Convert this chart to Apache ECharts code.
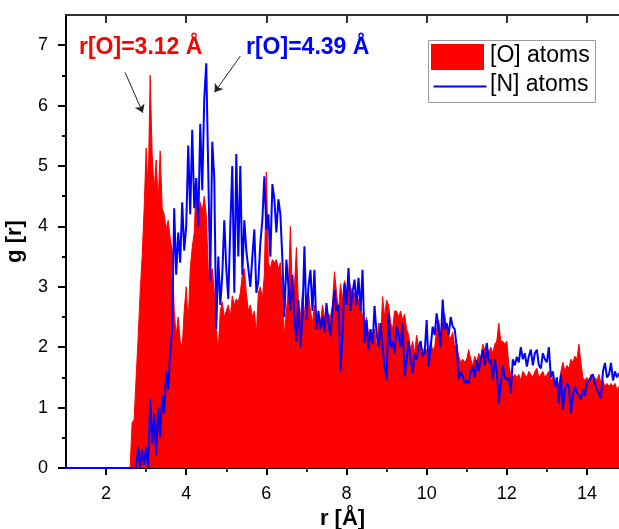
<!DOCTYPE html>
<html><head><meta charset="utf-8">
<script src="https://cdn.jsdelivr.net/npm/echarts@6/dist/echarts.min.js"></script>
<style>html,body{margin:0;padding:0;background:#fff}#c{width:619px;height:529px}</style>
</head><body><div id="c"></div>
<script>
// r grid: 1.00 .. 14.80 step 0.05 (one row per Å)
const rStart = 1.0, rStep = 0.05;

// g(r) of [O] atoms (red filled)
const gO = [
  0,0,0,0,0,0,0,0,0,0,0,0,0,0,0,0,0,0,0,0,
  0,0,0,0,0,0,0,0,0,0,0,0,0,0.75,0.8,1.5,2.15,2.9,3.5,4.3,
  5.3,4.6,6.5,5.2,4.6,5.1,4.4,5.25,4.3,4.2,3.95,4.1,3.8,3.6,2.6,2.2,2.5,2.1,2.0,2.6,
  3.0,2.4,3.3,3.65,3.9,4.75,4.0,4.4,4.25,4.5,4.2,3.3,3.1,3.3,2.9,2.3,1.95,2.6,2.75,2.5,
  2.6,2.7,2.5,2.85,2.7,2.8,2.75,2.9,3.2,3.3,2.9,2.6,2.7,2.5,2.6,2.2,2.9,3.0,2.8,3.2,
  4.9,3.4,3.3,3.45,3.4,3.45,3.3,3.4,2.9,2.2,2.6,3.0,4.0,2.8,3.0,3.65,2.7,2.5,2.9,2.6,
  2.4,2.9,2.6,2.4,2.7,2.2,2.5,2.4,2.7,2.5,2.6,2.55,2.5,2.7,3.25,2.9,2.6,3.05,2.8,3.1,
  2.9,3.15,3.0,2.9,2.9,2.7,2.8,2.7,2.5,2.3,2.5,2.2,2.3,2.1,2.3,2.0,2.4,2.1,2.84,2.5,
  2.78,2.7,2.4,2.3,2.6,2.6,2.5,2.6,2.45,2.55,2.3,2.2,1.95,2.1,1.9,2.2,2.0,2.1,1.9,2.0,
  1.95,1.9,2.1,1.95,2.0,2.3,2.45,2.2,2.4,2.55,2.3,2.2,2.15,2.25,2.0,2.05,1.85,1.75,1.8,1.75,
  1.8,1.96,1.8,1.7,1.85,1.75,1.9,1.8,2.05,1.95,2.05,1.9,2.0,1.9,2.05,2.1,2.4,2.1,2.1,2.05,
  2.1,1.7,1.55,1.5,1.55,1.5,1.55,1.45,1.6,1.55,1.5,1.6,1.55,1.5,1.6,1.65,1.5,1.55,1.6,1.5,
  1.55,1.6,1.45,1.5,1.4,1.5,1.35,1.6,1.75,1.6,1.7,1.65,1.8,1.75,1.85,1.8,2.05,1.75,1.5,1.45,
  1.5,1.4,1.55,1.45,1.5,1.45,1.55,1.4,1.45,1.35,1.4,1.35,1.4,1.35,1.4,1.3,1.35
];

// g(r) of [N] atoms (blue line)
const gN = [
  0,0,0,0,0,0,0,0,0,0,0,0,0,0,0,0,0,0,0,0,
  0,0,0,0,0,0,0,0,0,0,0,0,0,0,0,0,0.35,0.0,0.3,0.05,
  0.35,0.0,1.15,0.4,0.9,0.2,1.0,0.5,1.2,0.9,1.6,1.3,1.9,2.3,4.3,3.2,3.9,3.4,4.4,3.6,
  4.0,5.34,4.2,5.6,4.3,4.8,4.0,5.7,4.6,6.1,6.7,4.9,3.1,5.4,4.8,2.3,3.5,2.7,3.2,4.1,
  3.3,2.8,4.0,5.0,2.9,5.2,3.5,5.0,3.2,4.1,3.6,3.3,3.0,3.5,3.95,2.9,3.1,3.73,4.1,4.83,
  3.95,4.2,3.5,4.7,4.45,3.9,4.45,4.2,3.45,2.5,3.45,3.0,2.6,3.2,2.5,2.1,2.78,2.0,2.5,3.67,
  2.45,3.0,3.28,2.6,3.28,2.29,2.6,2.3,2.5,2.25,2.73,2.4,2.18,2.6,2.95,2.6,2.7,1.6,2.2,3.06,
  2.7,3.31,2.6,2.9,3.12,2.7,3.15,2.6,3.28,2.07,2.45,1.96,2.3,2.05,2.68,2.23,2.0,2.4,2.0,1.68,
  1.46,2.56,2.0,2.1,1.9,2.35,2.2,2.0,2.4,1.52,1.79,2.1,1.8,1.57,1.9,1.79,2.0,2.1,1.85,1.9,
  2.45,1.68,2.0,2.34,2.2,2.56,2.3,2.0,2.79,2.3,2.4,2.2,2.5,2.34,2.3,2.0,1.46,1.6,1.52,1.4,
  1.45,1.4,1.6,1.68,1.5,1.79,1.6,1.8,1.96,1.7,2.07,1.75,1.8,1.46,1.8,1.6,1.07,1.4,1.7,1.5,
  1.46,1.5,1.24,1.8,1.7,1.84,1.75,2.0,1.8,1.9,1.68,1.85,1.96,1.7,1.9,1.96,1.7,1.65,1.9,1.8,
  1.75,2.0,1.5,1.6,1.35,1.5,1.07,1.55,0.96,1.3,1.4,1.35,0.91,1.2,1.35,1.25,1.2,1.13,1.3,1.2,
  1.4,1.45,1.5,1.55,1.4,1.3,1.24,1.15,1.6,1.74,1.5,1.55,1.74,1.45,1.6,1.5,1.57
];

const xMajor = [2,4,6,8,10,12,14];
const xMinor = [3,5,7,9,11,13];
const yMajor = [0,1,2,3,4,5,6,7];
const yMinor = [0.5,1.5,2.5,3.5,4.5,5.5,6.5];

const seriesNames = ['[O] atoms', '[N] atoms'];
const annoText = ['r[O]=3.12 Å', 'r[O]=4.39 Å'];
// arrow start/end in data coordinates
const arrowO = [[2.475, 6.55], [2.918, 5.88]];
const arrowN = [[5.35, 6.82], [4.708, 6.22]];

const FONT = 'Liberation Sans, Arial, sans-serif';
const toPairs = arr => arr.map((v, i) => [+(rStart + i * rStep).toFixed(2), v]);

const chart = echarts.init(document.getElementById('c'), null, {renderer: 'canvas'});

function xAx(opts) {
  return Object.assign({
    type: 'value', min: 1, max: 14.8, gridIndex: 0,
    splitLine: {show: false},
    axisLine: {show: false},
    axisLabel: {show: false},
    axisTick: {show: false}
  }, opts);
}
function yAx(opts) {
  return Object.assign({
    type: 'value', min: 0, max: 7.5, gridIndex: 0,
    splitLine: {show: false},
    axisLine: {show: false},
    axisLabel: {show: false},
    axisTick: {show: false}
  }, opts);
}

chart.setOption({
  animation: false,
  backgroundColor: '#fff',
  grid: {left: 66, right: 0, top: 15, bottom: 61, containLabel: false, outerBoundsMode: 'none'},
  xAxis: [
    xAx({position: 'bottom',
      name: 'r [Å]', nameLocation: 'middle', nameGap: 36,
      nameTextStyle: {fontFamily: FONT, fontWeight: 'bold', fontSize: 22, color: '#000'},
      axisLine: {show: true, onZero: false, lineStyle: {color: '#000', width: 2}},
      axisTick: {show: true, customValues: xMajor, length: 7, inside: false, lineStyle: {color: '#000', width: 2}},
      axisLabel: {show: true, customValues: xMajor, margin: 17, fontFamily: FONT, fontSize: 18, color: '#000'}
    }),
    xAx({position: 'bottom',
      axisTick: {show: true, customValues: xMinor, length: 4, inside: false, lineStyle: {color: '#000', width: 2}}
    }),
    xAx({position: 'top',
      axisLine: {show: true, onZero: false, lineStyle: {color: '#333', width: 2}},
      axisTick: {show: true, customValues: xMajor, length: 8, inside: true, lineStyle: {color: '#333', width: 2}}
    }),
    xAx({position: 'top',
      axisTick: {show: true, customValues: xMinor, length: 4, inside: true, lineStyle: {color: '#333', width: 2}}
    })
  ],
  yAxis: [
    yAx({position: 'left',
      name: 'g [r]', nameLocation: 'middle', nameGap: 40, nameRotate: 90,
      nameTextStyle: {fontFamily: FONT, fontWeight: 'bold', fontSize: 22, color: '#000'},
      axisLine: {show: true, onZero: false, lineStyle: {color: '#000', width: 2}},
      axisTick: {show: true, customValues: yMajor, length: 8, inside: false, lineStyle: {color: '#000', width: 2}},
      axisLabel: {show: true, customValues: yMajor, margin: 18, fontFamily: FONT, fontSize: 18, color: '#000'}
    }),
    yAx({position: 'left',
      axisTick: {show: true, customValues: yMinor, length: 4, inside: false, lineStyle: {color: '#000', width: 2}}
    })
  ],
  series: [
    {
      name: seriesNames[0], type: 'line', xAxisIndex: 0, yAxisIndex: 0,
      data: toPairs(gO), showSymbol: false, symbol: 'none',
      lineStyle: {color: '#ff0000', width: 1},
      areaStyle: {color: '#ff0000', opacity: 1, origin: 0},
      z: 2
    },
    {
      name: seriesNames[1], type: 'line', xAxisIndex: 0, yAxisIndex: 0,
      data: toPairs(gN), showSymbol: false, symbol: 'none',
      lineStyle: {color: '#0000ff', width: 2},
      z: 3,
      markLine: {
        silent: true, symbol: ['none', 'arrow'], symbolSize: 8,
        label: {show: false},
        lineStyle: {color: '#222', width: 1, type: 'solid'},
        data: [
          [{coord: arrowO[0]}, {coord: arrowO[1]}],
          [{coord: arrowN[0]}, {coord: arrowN[1]}]
        ]
      }
    }
  ],
  graphic: [
    {type: 'text', left: 79, top: 36, z: 10,
      style: {text: annoText[0], fill: '#ff0000', font: 'bold 23px ' + FONT}},
    {type: 'text', left: 246, top: 36, z: 10,
      style: {text: annoText[1], fill: '#0000ff', font: 'bold 23px ' + FONT}},
    {type: 'rect', left: 428, top: 40, z: 10,
      shape: {width: 167, height: 62},
      style: {fill: '#fff', stroke: '#999', lineWidth: 1}},
    {type: 'rect', left: 431, top: 44, z: 11,
      shape: {width: 53, height: 26},
      style: {fill: '#ff0000'}},
    {type: 'line', left: 431, top: 84, z: 11,
      shape: {x1: 0, y1: 0, x2: 53, y2: 0},
      style: {stroke: '#0000ff', lineWidth: 2}},
    {type: 'text', left: 490, top: 44, z: 11,
      style: {text: seriesNames[0], fill: '#000', font: '23px ' + FONT}},
    {type: 'text', left: 490, top: 73, z: 11,
      style: {text: seriesNames[1], fill: '#000', font: '23px ' + FONT}}
  ]
});
</script>
</body></html>
